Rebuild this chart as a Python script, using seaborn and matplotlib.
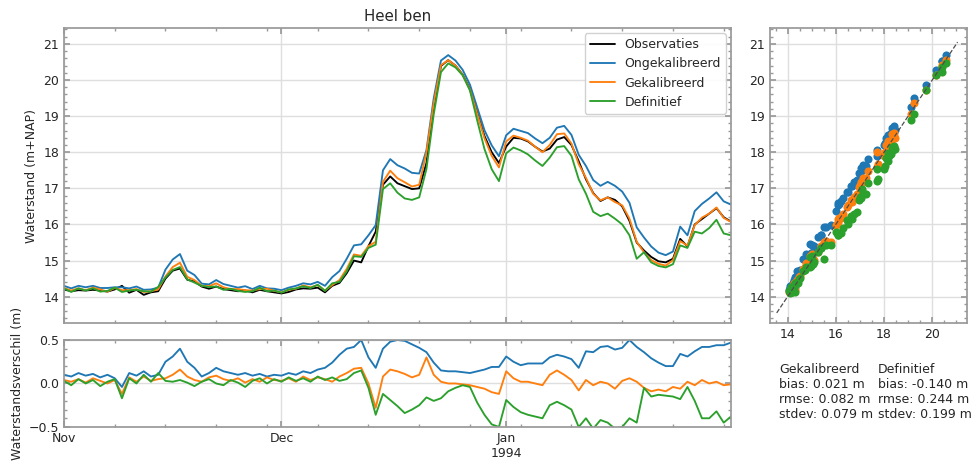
import matplotlib
matplotlib.use("Agg")
import matplotlib.pyplot as plt
import matplotlib.dates as mdates
from matplotlib.ticker import AutoMinorLocator, MultipleLocator, FuncFormatter
import numpy as np
import pandas as pd
import seaborn as sns

# dagwaarden vanaf 1 nov 1993
start = "1993-11-01"

observaties = [
    14.20, 14.15, 14.18, 14.17, 14.19, 14.17, 14.14, 14.20, 14.30, 14.11,
    14.19, 14.05, 14.12, 14.15, 14.50, 14.72, 14.78, 14.47, 14.42, 14.28,
    14.22, 14.28, 14.21, 14.18, 14.15, 14.17, 14.12, 14.19, 14.15, 14.12,
    14.09, 14.13, 14.20, 14.23, 14.22, 14.25, 14.12, 14.30, 14.38, 14.65,
    15.00, 14.95, 15.40, 15.80, 17.10, 17.33, 17.14, 17.06, 16.98, 17.00,
    17.70, 19.25, 20.39, 20.55, 20.40, 20.15, 19.75, 19.10, 18.45, 18.00,
    17.70, 18.16, 18.40, 18.38, 18.30, 18.15, 18.02, 18.10, 18.35, 18.42,
    18.20, 17.75, 17.25, 16.87, 16.65, 16.75, 16.68, 16.50, 16.10, 15.50,
    15.28, 15.10, 14.98, 14.95, 15.05, 15.60, 15.39, 16.00, 16.15, 16.30,
    16.45, 16.20, 16.08,
]

# verschil model - observatie
verschil_ongekalibreerd = [
    0.10, 0.08, 0.12, 0.09, 0.11, 0.07, 0.10, 0.06, -0.04, 0.12,
    0.09, 0.14, 0.08, 0.10, 0.25, 0.31, 0.40, 0.25, 0.18, 0.08,
    0.12, 0.18, 0.14, 0.12, 0.10, 0.12, 0.09, 0.11, 0.08, 0.10,
    0.09, 0.12, 0.10, 0.14, 0.12, 0.16, 0.18, 0.24, 0.33, 0.40,
    0.42, 0.50, 0.30, 0.18, 0.40, 0.48, 0.50, 0.49, 0.45, 0.41,
    0.36, 0.24, 0.15, 0.14, 0.14, 0.13, 0.12, 0.14, 0.16, 0.19,
    0.19, 0.31, 0.25, 0.21, 0.23, 0.23, 0.23, 0.30, 0.33, 0.31,
    0.28, 0.18, 0.37, 0.36, 0.42, 0.43, 0.39, 0.41, 0.50, 0.42,
    0.36, 0.29, 0.24, 0.20, 0.20, 0.34, 0.31, 0.37, 0.42, 0.42,
    0.44, 0.44, 0.47,
]
verschil_gekalibreerd = [
    0.04, 0.02, 0.05, 0.01, 0.06, 0.03, 0.00, 0.04, -0.12, 0.07,
    0.02, 0.08, 0.03, 0.05, 0.06, 0.10, 0.16, 0.08, 0.04, 0.02,
    0.07, 0.09, 0.05, 0.03, 0.06, 0.01, 0.05, 0.02, 0.07, 0.04,
    0.03, 0.06, 0.02, 0.08, 0.04, 0.07, 0.05, 0.02, 0.08, 0.12,
    0.17, 0.18, 0.00, -0.28, 0.08, 0.16, 0.14, 0.11, 0.07, 0.10,
    0.30, 0.10, 0.02, 0.00, 0.00, -0.01, -0.02, -0.04, -0.06, -0.10,
    -0.12, 0.14, 0.06, 0.02, 0.02, 0.00, -0.02, 0.10, 0.15, 0.10,
    0.04, -0.08, 0.04, -0.02, 0.02, 0.00, -0.06, 0.03, 0.06, 0.02,
    -0.05, -0.09, -0.07, -0.09, -0.04, -0.06, 0.02, -0.02, 0.04, 0.00,
    0.02, -0.02, -0.01,
]
verschil_definitief = [
    0.03, -0.02, 0.05, 0.00, 0.04, -0.03, 0.02, 0.05, -0.17, 0.06,
    0.00, 0.10, 0.02, 0.12, 0.03, 0.02, 0.04, 0.01, -0.03, 0.02,
    0.05, 0.00, -0.02, 0.04, 0.01, -0.04, 0.03, 0.06, 0.00, 0.05,
    0.02, 0.07, 0.03, 0.06, 0.02, 0.08, 0.04, 0.07, 0.03, 0.05,
    0.12, 0.15, -0.05, -0.36, -0.12, -0.19, -0.26, -0.34, -0.30, -0.25,
    -0.16, -0.20, -0.17, -0.09, -0.05, -0.02, -0.04, -0.22, -0.36, -0.47,
    -0.50, -0.19, -0.27, -0.33, -0.36, -0.38, -0.40, -0.25, -0.21, -0.25,
    -0.30, -0.50, -0.40, -0.52, -0.42, -0.45, -0.52, -0.50, -0.40, -0.45,
    -0.05, -0.15, -0.13, -0.14, -0.15, -0.18, -0.04, -0.20, -0.40, -0.40,
    -0.32, -0.45, -0.38,
]

namen = ["Observaties", "Ongekalibreerd", "Gekalibreerd", "Definitief"]
kleuren = ["black", "#1f77b4", "#ff7f0e", "#2ca02c"]

stats_gekalibreerd = ["Gekalibreerd", "bias: 0.021 m", "rmse: 0.082 m", "stdev: 0.079 m"]
stats_definitief = ["Definitief", "bias: -0.140 m", "rmse: 0.244 m", "stdev: 0.199 m"]

sns.set_theme(style="whitegrid", rc={
    "axes.edgecolor": "0.6",
    "grid.color": "0.87",
    "xtick.direction": "in",
    "ytick.direction": "in",
    "xtick.top": True,
    "xtick.bottom": True,
    "ytick.left": True,
    "ytick.right": True,
    "xtick.color": "0.6",
    "ytick.color": "0.6",
    "xtick.labelcolor": "0.15",
    "ytick.labelcolor": "0.15",
    "xtick.major.size": 4,
    "ytick.major.size": 4,
    "xtick.minor.size": 2,
    "ytick.minor.size": 2,
    "axes.labelsize": 9,
    "xtick.labelsize": 9,
    "ytick.labelsize": 9,
    "legend.fontsize": 9,
    "axes.titlesize": 10.8,
    "lines.linewidth": 1.35,
})
plt.rcParams["font.family"] = ["DejaVu Sans"]

datums = pd.date_range(start, periods=len(observaties), freq="D")
obs = np.array(observaties)
verschillen = {
    "Ongekalibreerd": np.array(verschil_ongekalibreerd),
    "Gekalibreerd": np.array(verschil_gekalibreerd),
    "Definitief": np.array(verschil_definitief),
}
df = pd.DataFrame({"Observaties": obs}, index=datums)
for naam, v in verschillen.items():
    df[naam] = obs + v

fig = plt.figure(figsize=(9.75, 4.61), dpi=100)
ax = fig.add_axes([0.0656, 0.2993, 0.6841, 0.6399])
ax_diff = fig.add_axes([0.0656, 0.0738, 0.6841, 0.1887], sharex=ax)
ax_sc = fig.add_axes([0.7897, 0.2993, 0.2021, 0.6399])

ylim = (13.27, 21.44)

for naam, kleur in zip(namen, kleuren):
    sns.lineplot(x=df.index, y=df[naam], ax=ax, color=kleur, label=naam)
ax.set_ylim(ylim)
ax.set_ylabel("Waterstand (m+NAP)")
ax.yaxis.set_label_coords(-0.039, 0.5)
ax.set_xlabel("")
ax.set_title("Heel ben", pad=5)
ax.tick_params(labelbottom=False)
ax.yaxis.set_major_locator(MultipleLocator(1))
ax.yaxis.set_minor_locator(AutoMinorLocator(5))
ax.legend(loc="upper right", frameon=True, fancybox=True, edgecolor="0.8",
          facecolor="white", framealpha=0.9, borderaxespad=0.4)

for naam, kleur in zip(namen[1:], kleuren[1:]):
    sns.lineplot(x=df.index, y=verschillen[naam], ax=ax_diff, color=kleur, legend=False)
ax_diff.set_ylim(-0.5, 0.5)
ax_diff.yaxis.set_major_locator(MultipleLocator(0.5))
ax_diff.yaxis.set_minor_locator(AutoMinorLocator(5))
ax_diff.set_ylabel("Waterstandsverschil (m)")
ax_diff.yaxis.set_label_coords(-0.060, 0.5)
ax_diff.set_xlabel("")
ax_diff.set_xlim(datums[0], datums[-1])
ax_diff.xaxis.set_major_locator(mdates.MonthLocator(bymonth=[11, 12, 1]))
ax_diff.xaxis.set_minor_locator(mdates.WeekdayLocator(byweekday=mdates.MO))


def maand_label(x, pos):
    d = mdates.num2date(x)
    label = d.strftime("%b")
    if d.month == 1:
        label += "\n" + d.strftime("%Y")
    return label


ax_diff.xaxis.set_major_formatter(FuncFormatter(maand_label))
ax.grid(True, which="major")
ax_diff.grid(True, which="major")

for naam, kleur in zip(namen[1:], kleuren[1:]):
    sns.scatterplot(x=obs, y=df[naam].values, ax=ax_sc, color=kleur, s=34,
                    linewidth=0, legend=False)
lo, hi = obs.min() - 0.5, obs.max() + 0.5
ax_sc.plot([lo, hi], [lo, hi], "--", color="0.3", lw=0.9)
ax_sc.set_xlim(ylim)
ax_sc.set_ylim(ylim)
ax_sc.xaxis.set_major_locator(MultipleLocator(2))
ax_sc.xaxis.set_minor_locator(AutoMinorLocator(4))
ax_sc.yaxis.set_major_locator(MultipleLocator(1))
ax_sc.yaxis.set_minor_locator(AutoMinorLocator(5))

fig.text(0.799, 0.212, "\n".join(stats_gekalibreerd), ha="left", va="top",
         fontsize=9, color="0.15")
fig.text(0.9, 0.212, "\n".join(stats_definitief), ha="left", va="top",
         fontsize=9, color="0.15")

fig.savefig("out.png", dpi=100)
